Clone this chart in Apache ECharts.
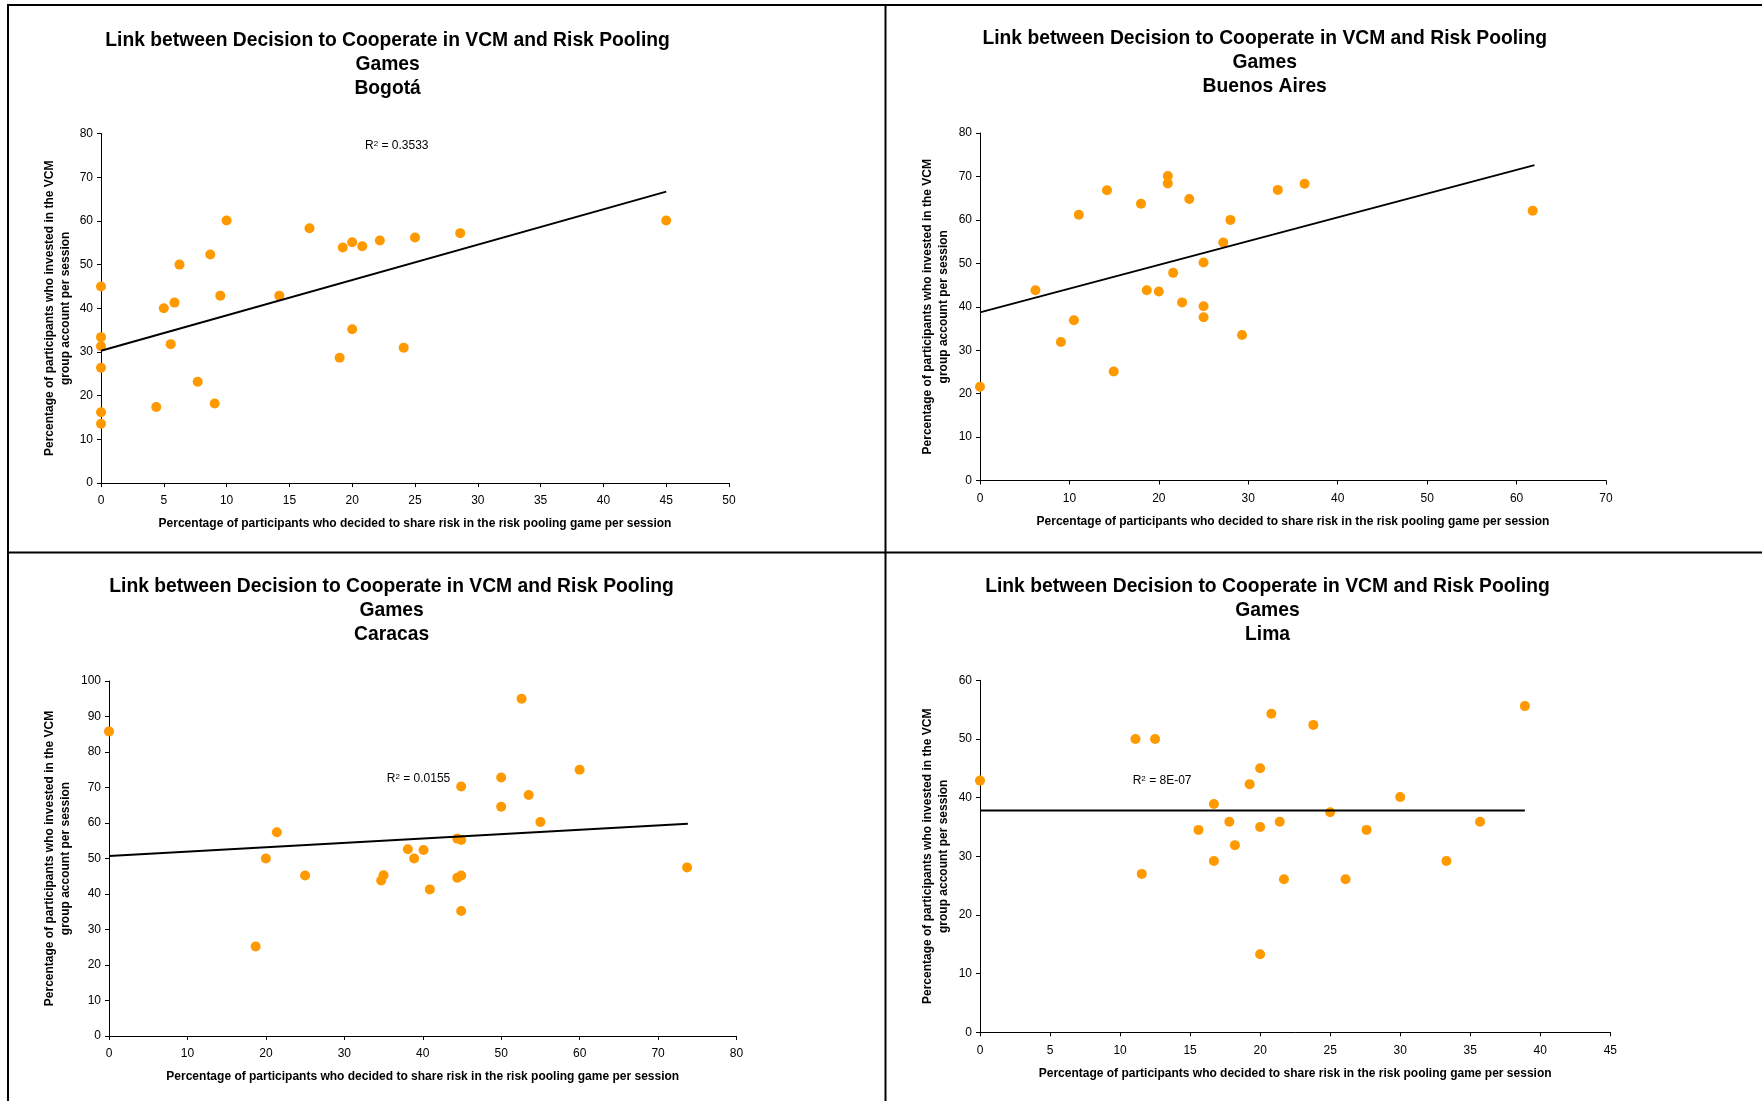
<!DOCTYPE html>
<html><head><meta charset="utf-8">
<script src="https://cdn.jsdelivr.net/npm/echarts@6/dist/echarts.min.js"></script>
<style>html,body{margin:0;padding:0;background:#fff}#c{width:1762px;height:1101px}</style>
</head><body><div id="c"></div>
<script>
// ---------- DATA ----------
const cities = ['Bogotá', 'Buenos Aires', 'Caracas', 'Lima'];
const titleLine1 = 'Link between Decision to Cooperate in VCM and Risk Pooling';
const titleLine2 = 'Games';
const xAxisTitle = 'Percentage of participants who decided to share risk in the risk pooling game per session';
const yAxisTitle = 'Percentage of participants who invested in the VCM\ngroup account per session';

const bogotaX = [0, 0, 0, 0, 0, 0, 4.4, 5.0, 5.55, 5.85, 6.25, 7.7, 8.7, 9.05, 9.5, 10.0, 14.2, 16.6, 19.0, 19.25, 20.0, 20.0, 20.8, 22.2, 24.1, 25.0, 28.6, 45.0];
const bogotaY = [45.0, 33.4, 31.3, 26.4, 16.2, 13.6, 17.4, 40.0, 31.8, 41.3, 50.0, 23.2, 52.3, 18.2, 42.9, 60.1, 42.9, 58.3, 28.7, 53.9, 55.1, 35.2, 54.2, 55.5, 31.0, 56.2, 57.2, 60.1];

const buenosX = [0, 6.2, 9.05, 10.5, 11.05, 14.2, 14.95, 18.0, 18.65, 20.0, 21.0, 21.0, 21.6, 22.6, 23.4, 25.0, 25.0, 25.0, 27.2, 28.0, 29.3, 33.3, 36.3, 61.8];
const buenosY = [21.6, 43.8, 31.9, 36.9, 61.2, 66.8, 25.1, 63.7, 43.8, 43.5, 70.1, 68.4, 47.8, 41.0, 64.8, 50.2, 40.1, 37.6, 54.8, 60.0, 33.5, 66.9, 68.3, 62.1];

const caracasX = [0, 18.7, 20.0, 21.4, 25.0, 34.7, 35.0, 38.1, 38.9, 40.1, 40.9, 44.4, 44.9, 44.4, 44.9, 44.9, 44.9, 50.0, 50.0, 52.6, 53.5, 55.0, 60.0, 73.7];
const caracasY = [85.8, 25.2, 50.0, 57.4, 45.2, 43.8, 45.3, 52.6, 50.0, 52.4, 41.3, 55.6, 55.2, 44.6, 45.2, 35.2, 70.3, 72.8, 64.6, 95.0, 67.9, 60.3, 75.0, 47.5];

const limaX = [0, 11.1, 12.5, 11.55, 15.6, 16.7, 16.7, 17.8, 18.2, 19.25, 20.0, 20.0, 20.0, 20.8, 21.4, 21.7, 23.8, 25.0, 26.1, 27.6, 30.0, 33.3, 35.7, 38.9];
const limaY = [42.9, 50.0, 50.0, 27.0, 34.5, 38.9, 29.2, 35.9, 31.9, 42.3, 45.0, 35.0, 13.3, 54.3, 35.9, 26.1, 52.4, 37.5, 26.1, 34.5, 40.1, 29.2, 35.9, 55.6];

// linear trend lines (endpoints)
const bogotaTrend = [[0, 30.3], [45, 66.7]];
const buenosTrend = [[0, 38.7], [62, 72.6]];
const caracasTrend = [[0, 50.7], [73.8, 59.8]];
const limaTrend = [[0, 37.8], [38.9, 37.8]];

const rSquared = ['0.3533', '0.1898', '0.0155', '8E-07'];
const rLabelPos = [[23.55, 77.1], [31.86, 82.7], [39.46, 72.5], [13.0, 42.9]];

// axis ranges / ticks
const xMax = [50, 70, 80, 45];
const xStep = [5, 10, 10, 5];
const yMax = [80, 80, 100, 60];
const yStep = [10, 10, 10, 10];

// ---------- LAYOUT ----------
const grids = [
  {left: 101, top: 133.5, width: 628, height: 349.6},
  {left: 980, top: 133, width: 626, height: 347.5},
  {left: 109, top: 681, width: 627.5, height: 355},
  {left: 980, top: 680.3, width: 630.3, height: 352}
];
const titlePos = [[387.6, 28.5], [1264.7, 27.1], [391.6, 574.5], [1267.5, 574.5]];
const yNameGap = [28, 29, 36, 29];
const FONT = '"Liberation Sans", Arial, Helvetica, sans-serif';

const xs = [bogotaX, buenosX, caracasX, limaX];
const ys = [bogotaY, buenosY, caracasY, limaY];
const trends = [bogotaTrend, buenosTrend, caracasTrend, limaTrend];

const zip = (a, b) => a.map((v, i) => [v, b[i]]);

const option = {
  animation: false,
  backgroundColor: '#fff',
  textStyle: {fontFamily: FONT, color: '#000'},
  title: cities.map((c, i) => ({
    text: titleLine1 + '\n' + titleLine2 + '\n' + c,
    left: titlePos[i][0], top: titlePos[i][1], textAlign: 'center', padding: 0,
    textStyle: {fontFamily: FONT, fontSize: 19.3, fontWeight: 'bold', lineHeight: 24, color: '#000'}
  })),
  grid: grids.map(g => Object.assign({containLabel: false}, g)),
  xAxis: cities.map((c, i) => ({
    type: 'value', gridIndex: i, min: 0, max: xMax[i], interval: xStep[i],
    axisLine: {show: true, onZero: false, lineStyle: {color: '#000', width: 1}},
    axisTick: {show: true, length: 4, lineStyle: {color: '#000'}},
    splitLine: {show: false},
    axisLabel: {color: '#000', fontSize: 12, fontFamily: FONT, margin: 12},
    name: xAxisTitle, nameLocation: 'middle', nameGap: 35,
    nameTextStyle: {fontFamily: FONT, fontSize: 12, fontWeight: 'bold', color: '#000'}
  })),
  yAxis: cities.map((c, i) => ({
    type: 'value', gridIndex: i, min: 0, max: yMax[i], interval: yStep[i],
    axisLine: {show: true, onZero: false, lineStyle: {color: '#000', width: 1}},
    axisTick: {show: true, length: 4, lineStyle: {color: '#000'}},
    splitLine: {show: false},
    axisLabel: {color: '#000', fontSize: 12, fontFamily: FONT, margin: 8},
    name: yAxisTitle, nameLocation: 'middle', nameGap: yNameGap[i], nameRotate: 90,
    nameTextStyle: {fontFamily: FONT, fontSize: 12, fontWeight: 'bold', color: '#000', lineHeight: 15.5}
  })),
  series: [],
  graphic: [
    {type: 'line', shape: {x1: 7, y1: 5, x2: 1762, y2: 5}, style: {stroke: '#000', lineWidth: 2}},
    {type: 'line', shape: {x1: 8, y1: 4, x2: 8, y2: 1101}, style: {stroke: '#000', lineWidth: 2}},
    {type: 'line', shape: {x1: 885.5, y1: 4, x2: 885.5, y2: 1101}, style: {stroke: '#000', lineWidth: 2}},
    {type: 'line', shape: {x1: 7, y1: 552.5, x2: 1762, y2: 552.5}, style: {stroke: '#000', lineWidth: 2}}
  ]
};

cities.forEach((c, i) => {
  option.series.push({
    type: 'scatter', xAxisIndex: i, yAxisIndex: i,
    data: zip(xs[i], ys[i]), symbol: 'circle', symbolSize: 10,
    itemStyle: {color: '#FF9900', opacity: 1}, z: 3
  });
  option.series.push({
    type: 'line', xAxisIndex: i, yAxisIndex: i, data: trends[i],
    symbol: 'none', lineStyle: {color: '#000', width: 2}, z: 4, silent: true,
    markPoint: {
      symbol: 'rect', symbolSize: 0, silent: true,
      data: [{coord: rLabelPos[i]}],
      label: {
        show: true, position: 'inside',
        formatter: 'R{s|2} = ' + rSquared[i],
        fontFamily: FONT, fontSize: 12, color: '#000',
        rich: {s: {fontSize: 8, fontFamily: FONT, color: '#000', verticalAlign: 'top', lineHeight: 10, padding: [0, 0, 5, 0]}}
      }
    }
  });
});

const chart = echarts.init(document.getElementById('c'), null, {renderer: 'canvas'});
chart.setOption(option);
</script></body></html>
